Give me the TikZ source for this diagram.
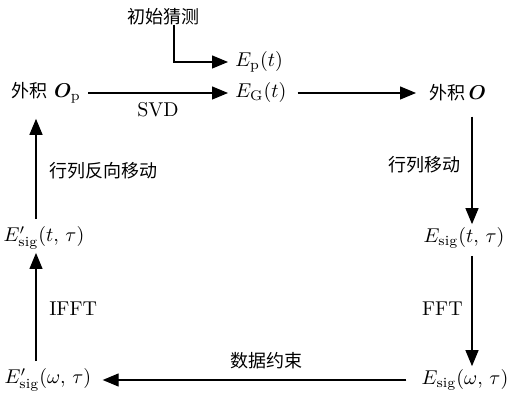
\documentclass[tikz,border=0pt]{standalone}
\usepackage{amsmath,bm}
\usepackage{fontspec}
\newfontfamily\cjk[Scale=0.9]{Noto Sans CJK SC}
\usetikzlibrary{arrows.meta}
\begin{document}
\begin{tikzpicture}[x=0.5pt,y=-0.5pt,
  lbl/.style={inner sep=1.5pt},
  arr/.style={line width=0.6pt,-{Triangle[length=8pt,width=6.5pt]}},
  ln/.style={line width=0.6pt}]
\useasboundingbox (0,0) rectangle (507,399);
\coordinate (lx) at (36,0);
\coordinate (rx) at (472,0);
\node[lbl] (guess) at (163,17) {\cjk 初始猜测};
\node[lbl,anchor=west] (ep) at (232,62) {$E_{\mathrm p}(t)$};
\node[lbl,anchor=west] (eg) at (232,93) {$E_{\mathrm G}(t)$};
\node[lbl,anchor=west] (op) at (8,93) {{\cjk 外积}\,\,$\bm{O}_{\mathrm p}$};
\node[lbl,anchor=west] (o) at (426,93) {{\cjk 外积}\,$\bm{O}$};
\node[lbl] (esigt) at (464,238) {$E_{\mathrm{sig}}(t,\,\tau)$};
\node[lbl] (esigw) at (465,380) {$E_{\mathrm{sig}}(\omega,\,\tau)$};
\node[lbl] (epsigw) at (48,380) {$E'_{\mathrm{sig}}(\omega,\,\tau)$};
\node[lbl] (epsigt) at (44,238) {$E'_{\mathrm{sig}}(t,\,\tau)$};
% connectors
\draw[arr] ([xshift=5.5pt]guess.south) ++(0,-4) |- ([xshift=-2pt]ep.west);
\draw[arr,shorten <=2pt,shorten >=2pt] (op.east |- eg.west) -- node[below=1pt] {SVD} (eg.west);
\draw[arr,shorten <=4pt,shorten >=5pt] (eg.east) -- (o.west);
\draw[arr,shorten <=6pt] (o.south -| rx) -- node[left=2pt] {\cjk 行列移动} (esigt.north -| rx);
\draw[arr,shorten <=2pt] (esigt.south -| rx) -- node[left=1pt] {FFT} (esigw.north -| rx);
\draw[arr,shorten <=6pt,shorten >=4pt] (esigw.west) -- node[above=2pt,pos=0.47] {\cjk 数据约束} (epsigw.east);
\draw[arr,shorten <=2pt] (epsigw.north -| lx) -- node[right=3pt] {IFFT} (epsigt.south -| lx);
\draw[arr,shorten <=2pt] (epsigt.north -| lx) -- node[right=3pt] {\cjk 行列反向移动} ([yshift=-6pt]op.south -| lx);
\end{tikzpicture}
\end{document}
